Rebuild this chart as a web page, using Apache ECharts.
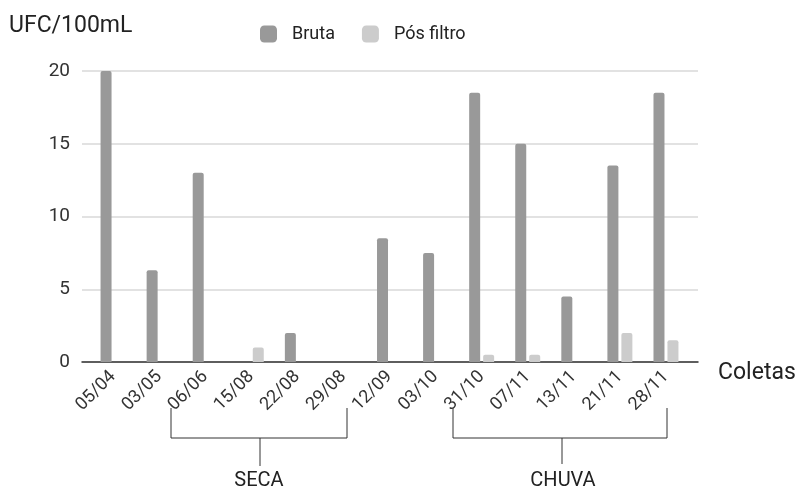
<!DOCTYPE html>
<html><head><meta charset="utf-8">
<script src="https://cdn.jsdelivr.net/npm/echarts@6/dist/echarts.min.js"></script>
<style>html,body{margin:0;padding:0;background:#fff}#c{width:798px;height:493px}</style>
</head><body><div id="c"></div>
<script>
const categories = ['05/04','03/05','06/06','15/08','22/08','29/08','12/09','03/10','31/10','07/11','13/11','21/11','28/11'];
const bruta = [20, 6.3, 13, 0, 2, 0, 8.5, 7.5, 18.5, 15, 4.5, 13.5, 18.5];
const posFiltro = [0, 0, 0, 1, 0, 0, 0, 0, 0.5, 0.5, 0, 2, 1.5];
const seriesNames = ['Bruta', 'Pós filtro'];
const yMax = 20, yStep = 5;
const groups = [{name:'SECA', from:2, to:5}, {name:'CHUVA', from:8, to:12}];

const FONT = 'Roboto';
const chart = echarts.init(document.getElementById('c'), null, {renderer:'canvas'});
const line = (x1,y1,x2,y2) => ({type:'line', shape:{x1,y1,x2,y2}, style:{stroke:'#333', lineWidth:1}, silent:true});
const graphics = [
  {type:'text', left:9, top:15, style:{text:'UFC/100mL', font:'23px Roboto', fill:'#222'}},
  {type:'text', left:718, top:362, style:{text:'Coletas', font:'23px Roboto', fill:'#222'}},
  // SECA bracket
  line(171,408,171,438), line(171,438,347,438), line(347,408,347,438), line(260,438,260,466),
  {type:'text', x:259, y:481, style:{text:groups[0].name, font:'20px Roboto', fill:'#222', textAlign:'center', textVerticalAlign:'middle'}},
  // CHUVA bracket
  line(453,408,453,438), line(453,438,667,438), line(667,408,667,438), line(562,438,562,464),
  {type:'text', x:563, y:481, style:{text:groups[1].name, font:'20px Roboto', fill:'#222', textAlign:'center', textVerticalAlign:'middle'}}
];

chart.setOption({
  animation:false,
  textStyle:{fontFamily:FONT},
  legend:{
    data:seriesNames, left:260, top:25, padding:0, itemWidth:17, itemHeight:17, itemGap:27,
    icon:'roundRect',
    textStyle:{fontSize:18, color:'#222', padding:[0,0,0,10]}
  },
  grid:[
    {left:82, right:100, top:71, bottom:131},
    {left:90, right:109, top:71, bottom:131}
  ],
  xAxis:[
    {gridIndex:0, type:'value', min:0, max:1, axisLine:{show:true, onZero:false, lineStyle:{color:'#333', width:1.5}},
     axisTick:{show:false}, axisLabel:{show:false}, splitLine:{show:false}},
    {gridIndex:1, type:'category', data:categories, axisLine:{show:false}, axisTick:{show:false},
     axisLabel:{rotate:45, fontSize:18, color:'#333', margin:12, interval:0}}
  ],
  yAxis:[
    {gridIndex:0, type:'value', min:0, max:yMax, interval:yStep, axisLine:{show:false}, axisTick:{show:false},
     axisLabel:{fontSize:19, color:'#333', margin:12}, splitLine:{lineStyle:{color:'#d9d9d9', width:1.5}}},
    {gridIndex:1, type:'value', min:0, max:yMax, interval:yStep, show:false, splitLine:{show:false}}
  ],
  series:[
    {name:seriesNames[0], type:'bar', xAxisIndex:1, yAxisIndex:1, data:bruta, barWidth:11, barGap:'27%',
     itemStyle:{color:'#999999', borderRadius:[2,2,0,0]}},
    {name:seriesNames[1], type:'bar', xAxisIndex:1, yAxisIndex:1, data:posFiltro, barWidth:11, barGap:'27%',
     itemStyle:{color:'#cccccc', borderRadius:[2,2,0,0]}}
  ],
  graphic:graphics
});
</script></body></html>
